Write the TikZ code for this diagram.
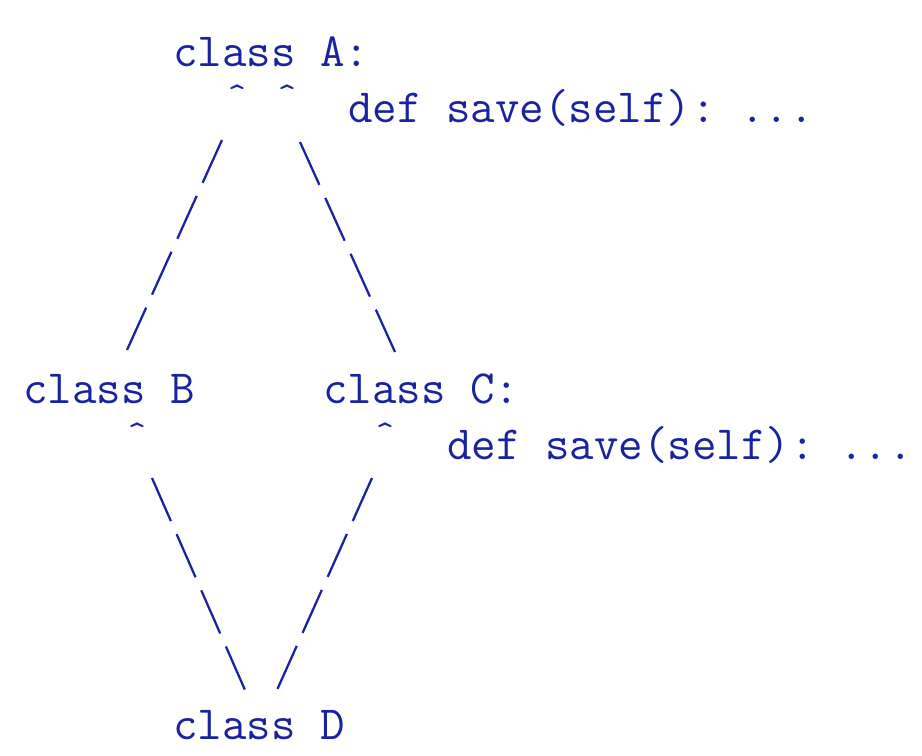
\documentclass[tikz,border=0pt]{standalone}
\usepackage{fontspec}
\setmonofont{Latin Modern Mono}
\definecolor{ink}{RGB}{25,35,160}
\begin{document}
\begin{tikzpicture}[x=0.75pt,y=-0.75pt,
  txt/.style={inner sep=0pt, outer sep=0pt, anchor=base west, text=ink,
    font=\fontsize{35.7}{42}\selectfont\ttfamily},
  caret/.style={txt, anchor=base, font=\fontsize{26}{30}\selectfont\ttfamily},
  link/.style={draw=ink, line width=1.7pt, dash pattern=on 35.3pt off 10.7pt}]
\useasboundingbox (0,0) rectangle (922,756);
% class names
\node[txt] (A) at (173,67) {class A:};
\node[txt] (saveA) at (348,123) {def save(self): ...};
\node[txt] (B) at (23,403) {class B};
\node[txt] (C) at (323,403) {class C:};
\node[txt] (saveC) at (447,459) {def save(self): ...};
\node[txt] (D) at (173,739) {class D};
% carets (arrow heads)
\node[caret] (hAB) at (237,107) {\string^};
\node[caret] (hAC) at (287,107) {\string^};
\node[caret] (hBD) at (137,444) {\string^};
\node[caret] (hCD) at (385,444) {\string^};
% connector ends
\coordinate (eAB) at (222,140);
\coordinate (eB)  at (127,350);
\coordinate (eAC) at (300,142);
\coordinate (eC)  at (395,352);
\coordinate (eBD) at (152,478);
\coordinate (eDB) at (245,690);
\coordinate (eCD) at (372,478);
\coordinate (eDC) at (277,690);
% connectors
\draw[link] (eAB) -- (eB);
\draw[link] (eAC) -- (eC);
\draw[link] (eBD) -- (eDB);
\draw[link] (eCD) -- (eDC);
\end{tikzpicture}
\end{document}
